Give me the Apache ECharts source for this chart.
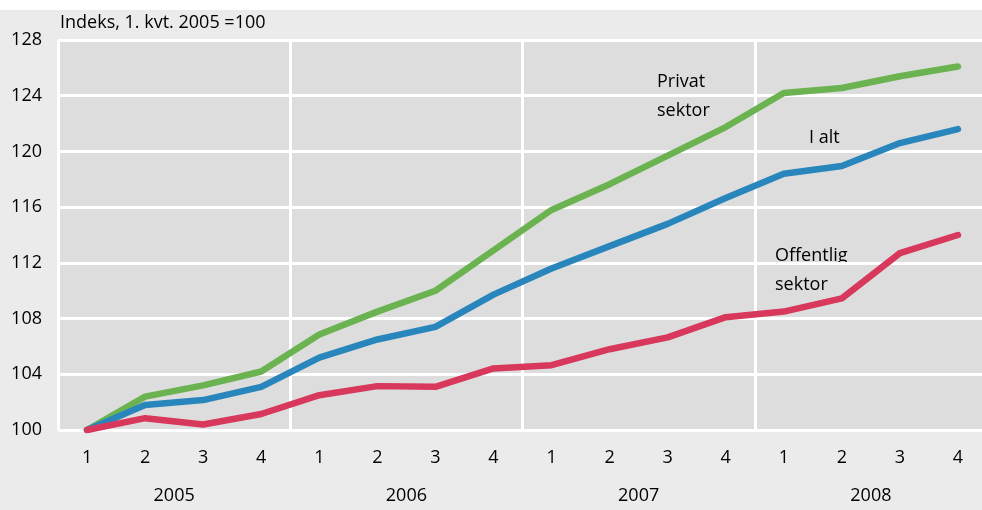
<!DOCTYPE html>
<html>
<head>
<meta charset="utf-8">
<script src="https://cdn.jsdelivr.net/npm/echarts@6/dist/echarts.min.js"></script>
<style>
html,body{margin:0;padding:0;background:#fff;overflow:hidden;width:982px;height:510px;}
#chart{width:990px;height:510px;}
</style>
</head>
<body>
<div id="chart"></div>
<script>
var quarters = ['1','2','3','4','1','2','3','4','1','2','3','4','1','2','3','4'];
var years = ['2005','2006','2007','2008'];
var privat = [100, 102.4, 103.2, 104.2, 106.85, 108.5, 110.0, 112.9, 115.8, 117.65, 119.7, 121.75, 124.2, 124.55, 125.4, 126.1];
var ialt = [100, 101.8, 102.15, 103.1, 105.2, 106.5, 107.4, 109.72, 111.6, 113.2, 114.8, 116.65, 118.4, 118.95, 120.6, 121.6];
var offentlig = [100, 100.85, 100.4, 101.15, 102.5, 103.15, 103.1, 104.42, 104.65, 105.8, 106.65, 108.1, 108.5, 109.45, 112.7, 114.0];
var yTicks = {min: 100, max: 128, interval: 4};
var axisTitle = 'Indeks, 1. kvt. 2005 =100';

var FONT = 'Open Sans';
var TXT = '#000000';
var chart = echarts.init(document.getElementById('chart'));
var lineStyle = function (c) { return {width: 6.5, color: c, cap: 'round', join: 'round'}; };
chart.setOption({
  backgroundColor: '#ffffff',
  animation: false,
  textStyle: {fontFamily: FONT},
  graphic: [
    {type: 'rect', z: -10, shape: {x: 0, y: 10, width: 990, height: 500}, style: {fill: '#ebebeb'}, silent: true},
    {type: 'text', left: 60, top: 14, style: {text: axisTitle, font: '18px "' + FONT + '"', fill: TXT}},
    {type: 'text', left: 657, top: 67, style: {text: 'Privat\nsektor', font: '18px "' + FONT + '"', fill: TXT, lineHeight: 29}},
    {type: 'text', left: 809, top: 129, style: {text: 'I alt', font: '18px "' + FONT + '"', fill: TXT}},
    {type: 'text', left: 775, top: 241, style: {text: 'Offentlig\nsektor', font: '18px "' + FONT + '"', fill: TXT, lineHeight: 29}}
  ],
  grid: {left: 58, top: 40, right: 3, bottom: 80, show: true, backgroundColor: '#dddddd', borderWidth: 0, containLabel: false},
  xAxis: [
    {
      type: 'category', data: quarters, boundaryGap: true,
      axisLine: {show: false}, axisTick: {show: false},
      axisLabel: {margin: 19, fontSize: 18, color: TXT, fontFamily: FONT, interval: 0},
      splitLine: {show: true, interval: function (i) { return i % 4 === 0; }, lineStyle: {color: '#ffffff', width: 3}}
    },
    {
      type: 'category', data: years, position: 'bottom', boundaryGap: true,
      axisLine: {show: false}, axisTick: {show: false}, splitLine: {show: false},
      axisLabel: {margin: 57, fontSize: 18, color: TXT, fontFamily: FONT, interval: 0}
    }
  ],
  yAxis: {
    type: 'value', min: yTicks.min, max: yTicks.max, interval: yTicks.interval,
    axisLine: {show: false}, axisTick: {show: false},
    axisLabel: {margin: 16, fontSize: 18, color: TXT, fontFamily: FONT},
    splitLine: {show: true, lineStyle: {color: '#ffffff', width: 3}}
  },
  series: [
    {name: 'Offentlig sektor', type: 'line', data: offentlig, symbol: 'none', lineStyle: lineStyle('#d8385c'), z: 3},
    {name: 'I alt', type: 'line', data: ialt, symbol: 'none', lineStyle: lineStyle('#2886bd'), z: 2},
    {name: 'Privat sektor', type: 'line', data: privat, symbol: 'none', lineStyle: lineStyle('#6ab350'), z: 1}
  ]
});
</script>
</body>
</html>
